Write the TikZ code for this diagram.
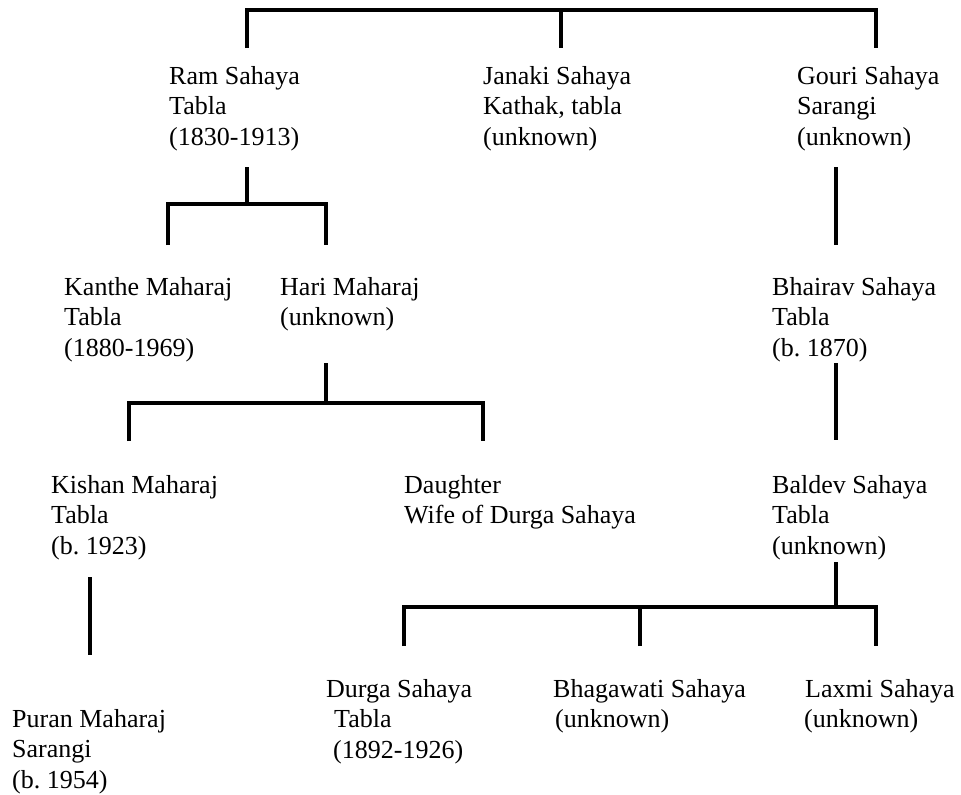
\documentclass[tikz,border=0pt]{standalone}
\usepackage{fontspec}
\setmainfont{Liberation Serif}
\usepackage{tikz}
\usetikzlibrary{positioning}
\frenchspacing

\begin{document}
\begin{tikzpicture}[x=1pt, y=-1pt, font=\fontsize{26}{30.5}\selectfont,
    person/.style={anchor=base west, align=left, inner sep=0pt},
    link/.style={line width=3.5pt, line join=miter}]
    \useasboundingbox (0,0) rectangle (961,795);
    % generation 1 (placed at the baseline of the last line)
    \node[person] (ram) at (169,145) {Ram Sahaya\\ Tabla\\ (1830-1913)};
    \node[person] (janaki) at (483,145) {Janaki Sahaya\\ Kathak, tabla\\ (unknown)};
    \node[person] (gouri) at (797,145) {Gouri Sahaya\\ Sarangi\\ (unknown)};
    % generation 2
    \node[person] (kanthe) at (64,356) {Kanthe Maharaj\\ Tabla\\ (1880-1969)};
    \node[person] (hari) at (280,325.5) {Hari Maharaj\\ (unknown)};
    \node[person] (bhairav) at (772,356) {Bhairav Sahaya\\ Tabla\\ (b. 1870)};
    % generation 3
    \node[person] (kishan) at (51,554) {Kishan Maharaj\\ Tabla\\ (b. 1923)};
    \node[person] (daughter) at (404,523.5) {Daughter\\ Wife of Durga Sahaya};
    \node[person] (baldev) at (772,554) {Baldev Sahaya\\ Tabla\\ (unknown)};
    % generation 4
    \node[person] (puran) at (12,788) {Puran Maharaj\\ Sarangi\\ (b. 1954)};
    \node[person] (durga) at (326,758) {Durga Sahaya\\ \hspace*{8pt}Tabla\\ \hspace*{7pt}(1892-1926)};
    \node[person] (bhagawati) at (553,727.5) {Bhagawati Sahaya\\ \hspace*{2pt}(unknown)};
    \node[person] (laxmi) at (805,727.5) {Laxmi Sahaya\\ \hspace*{-1pt}(unknown)};

    % joints
    \coordinate (root) at (561,10);
    \coordinate (ramtop) at (247,48);
    \coordinate (janakitop) at (561,48);
    \coordinate (gouritop) at (876,48);
    \coordinate (ramdown) at (247,167);
    \coordinate (ramfork) at (247,204);
    \coordinate (kanthetop) at (168,245);
    \coordinate (haritop) at (326,245);
    \coordinate (gouridown) at (836,167);
    \coordinate (bhairavtop) at (836,245);
    \coordinate (haridown) at (326,363);
    \coordinate (harifork) at (326,403);
    \coordinate (kishantop) at (129,441);
    \coordinate (daughtertop) at (483,441);
    \coordinate (bhairavdown) at (836,363);
    \coordinate (baldevtop) at (836,440);
    \coordinate (kishandown) at (90,577);
    \coordinate (purantop) at (90,655);
    \coordinate (baldevdown) at (836,562);
    \coordinate (baldevfork) at (836,607);
    \coordinate (durgatop) at (404,646);
    \coordinate (bhagawatitop) at (640,646);
    \coordinate (laxmitop) at (876,646);

    % lines
    \draw[link] (ramtop) |- (root) -| (gouritop);
    \draw[link] (root) -- (janakitop);
    \draw[link] (ramdown) -- (ramfork);
    \draw[link] (kanthetop) |- (ramfork) -| (haritop);
    \draw[link] (gouridown) -- (bhairavtop);
    \draw[link] (haridown) -- (harifork);
    \draw[link] (kishantop) |- (harifork) -| (daughtertop);
    \draw[link] (bhairavdown) -- (baldevtop);
    \draw[link] (kishandown) -- (purantop);
    \draw[link] (baldevdown) -- (baldevfork);
    \draw[link] (durgatop) |- (baldevfork) -| (laxmitop);
    \draw[link] (bhagawatitop) -- (bhagawatitop |- baldevfork);
\end{tikzpicture}
\end{document}
